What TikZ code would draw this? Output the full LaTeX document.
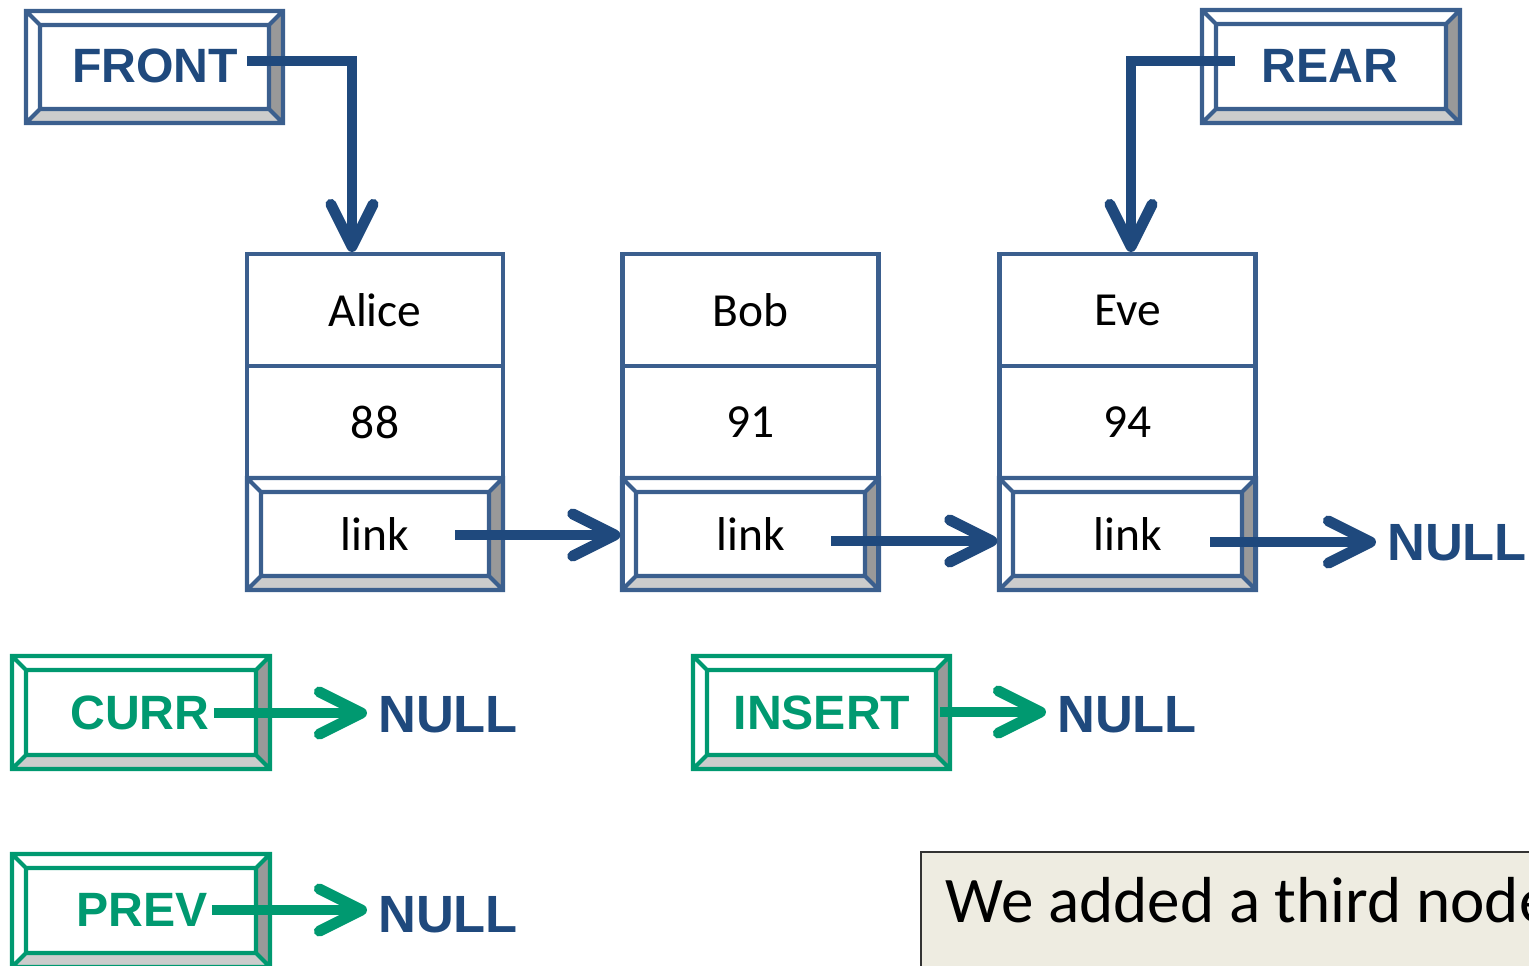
\documentclass[tikz,border=0pt]{standalone}
\usepackage{fontspec}
\setmainfont{Carlito}
\newfontfamily\labelfont{Liberation Sans}
\usetikzlibrary{arrows.meta}

\definecolor{boxblue}{RGB}{59,95,142}
\definecolor{ptrblue}{RGB}{31,73,125}
\definecolor{ptrgreen}{RGB}{0,153,112}
\definecolor{notefill}{RGB}{238,236,225}

\tikzset{
  cell/.style={draw=boxblue, line width=1.2pt, minimum width=2.56cm, minimum height=1.12cm,
    font=\fontsize{13.5}{16}\selectfont},
  keylabel/.style={font=\labelfont\bfseries\fontsize{13.7}{16}\selectfont, inner sep=1pt},
  nulltext/.style={text=ptrblue, font=\labelfont\bfseries\fontsize{14.9}{18}\selectfont,
    inner sep=3pt, anchor=west},
  ptr/.style={line width=3.1pt, -{Straight Barb[length=12pt,width=12pt,round]}},
}

% 带斜边的按钮框: 颜色, 左, 上, 右, 下
\newcommand{\keyframe}[5]{
  \fill[black!40] (#4,#3) -- (#4,#5) -- (#4-14,#5-14) -- (#4-14,#3+14) -- cycle;
  \fill[black!20] (#2,#5) -- (#4,#5) -- (#4-14,#5-14) -- (#2+14,#5-14) -- cycle;
  \draw[#1, line width=1.2pt] (#2,#3) rectangle (#4,#5) (#2+14,#3+14) rectangle (#4-14,#5-14)
    (#2,#3) -- (#2+14,#3+14) (#4,#3) -- (#4-14,#3+14)
    (#2,#5) -- (#2+14,#5-14) (#4,#5) -- (#4-14,#5-14);
}

\begin{document}
\begin{tikzpicture}[x=0.01cm, y=-0.01cm]
  \useasboundingbox (0,0) rectangle (1529,966);

  % 链表的三个结点
  \node[cell] (alice) at (375,310) {Alice};
  \node[cell] (score1) at (375,422) {88};
  \keyframe{boxblue}{247}{478}{503}{590}
  \node[cell] (link1) at (375,534) {link};

  \node[cell] (bob) at (750.5,310) {Bob};
  \node[cell] (score2) at (750.5,422) {91};
  \keyframe{boxblue}{622}{478}{879}{590}
  \node[cell] (link2) at (750.5,534) {link};

  \node[cell] (eve) at (1127.5,310) {Eve};
  \node[cell] (score3) at (1127.5,422) {94};
  \keyframe{boxblue}{999}{478}{1256}{590}
  \node[cell] (link3) at (1127.5,534) {link};

  % link 指针
  \node[nulltext] (null3) at (1376,543) {NULL};
  \coordinate (tail1) at (455,535);
  \coordinate (tail2) at (831,541);
  \coordinate (tail3) at (1210,542);
  \draw[ptr, ptrblue] (tail1) -- (tail1 -| bob.west);
  \draw[ptr, ptrblue] (tail2) -- (tail2 -| eve.west);
  \draw[ptr, ptrblue] (tail3) -- (tail3 -| null3.west);

  % FRONT 和 REAR
  \keyframe{boxblue}{26}{11}{283}{123}
  \node[keylabel, text=ptrblue] (front) at (155,66) {FRONT};
  \coordinate (fronttail) at (247,61);
  \coordinate (fronthead) at (352,252);
  \draw[ptr, ptrblue] (fronttail) -| (fronthead);

  \keyframe{boxblue}{1202}{10}{1460}{123}
  \node[keylabel, text=ptrblue] (rear) at (1330,66) {REAR};
  \coordinate (reartail) at (1235,61);
  \coordinate (rearhead) at (1131,252);
  \draw[ptr, ptrblue] (reartail) -| (rearhead);

  % CURR, PREV, INSERT 都指向 NULL
  \keyframe{ptrgreen}{12}{656}{270}{769}
  \node[keylabel, text=ptrgreen] (curr) at (140,713) {CURR};
  \node[nulltext] (currnull) at (367,715) {NULL};
  \draw[ptr, ptrgreen] (curr.east) -- (curr.east -| currnull.west);

  \keyframe{ptrgreen}{12}{854}{270}{967}
  \node[keylabel, text=ptrgreen] (prev) at (142,910) {PREV};
  \node[nulltext] (prevnull) at (367,915) {NULL};
  \draw[ptr, ptrgreen] (prev.east) -- (prev.east -| prevnull.west);

  \keyframe{ptrgreen}{693}{656}{950}{769}
  \node[keylabel, text=ptrgreen] (insert) at (822,713) {INSERT};
  \node[nulltext] (insertnull) at (1046,715) {NULL};
  \coordinate (inserttail) at (940,712);
  \draw[ptr, ptrgreen] (inserttail) -- (inserttail -| insertnull.west);

  % 说明文字
  \draw[fill=notefill, draw=black!80, line width=0.8pt] (921,852) rectangle (1600,1000);
  \node[anchor=base west, inner sep=0, font=\fontsize{18.5}{22}\selectfont] (note) at (945,922)
    {We added a third node};
\end{tikzpicture}
\end{document}
